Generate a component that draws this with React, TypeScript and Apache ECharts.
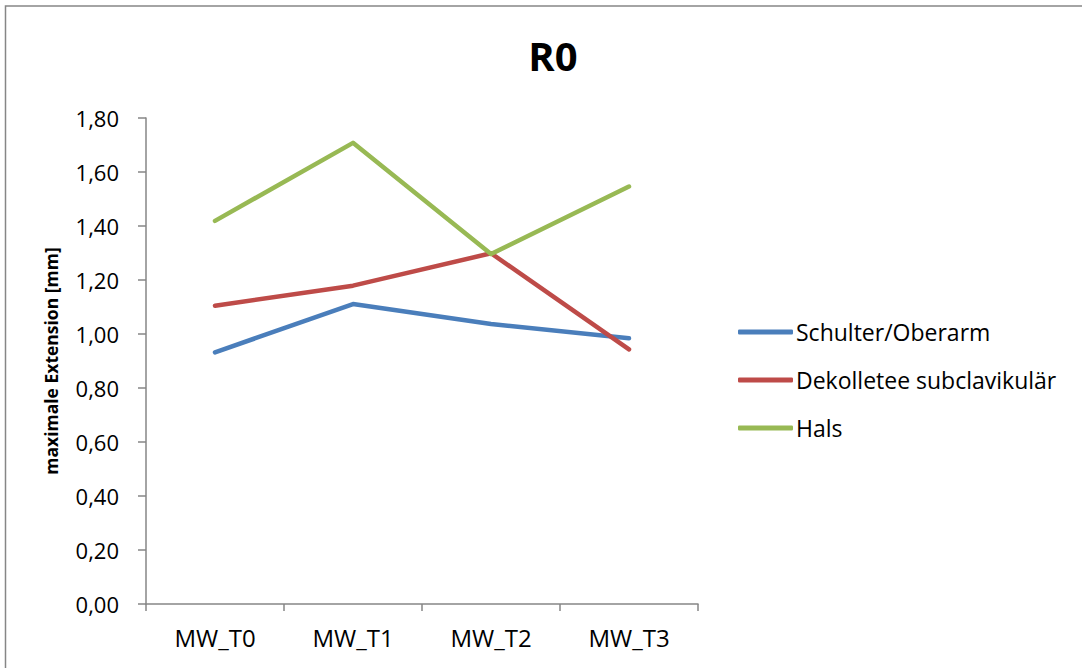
import React, { useEffect, useRef } from "react";
import * as echarts from "echarts";

const categories = ["MW_T0", "MW_T1", "MW_T2", "MW_T3"];
const seriesNames = ["Schulter/Oberarm", "Dekolletee subclavikulär", "Hals"];
const schulter = [0.932, 1.111, 1.037, 0.984];
const dekolletee = [1.105, 1.179, 1.299, 0.943];
const hals = [1.419, 1.708, 1.296, 1.546];
const colors = ["#4a7ebb", "#be4b48", "#98b954"];

const FONT = "'Open Sans', 'Noto Sans', sans-serif";

export default function App() {
  const ref = useRef<HTMLDivElement>(null);
  useEffect(() => {
    if (!ref.current) return;
    const chart = echarts.init(ref.current, null, { renderer: "svg" });
    const data = [schulter, dekolletee, hals];
    chart.setOption({
      animation: false,
      backgroundColor: "#ffffff",
      title: {
        text: "R0",
        left: 548,
        top: 30,
        textAlign: "center",
        textStyle: { fontFamily: FONT, fontSize: 40, fontWeight: "bold", color: "#000" },
      },
      graphic: [
        {
          type: "rect",
          shape: { x: 5.5, y: 6, width: 1100, height: 700 },
          style: { fill: "none", stroke: "#868686", lineWidth: 1.5 },
          silent: true,
        },
      ],
      legend: {
        orient: "vertical",
        left: 738,
        top: 320,
        padding: 0,
        itemWidth: 55,
        itemHeight: 5,
        itemGap: 24,
        icon: "roundRect",
        textStyle: { fontFamily: FONT, fontSize: 23, color: "#000", lineHeight: 24, padding: [0, 0, 0, -2] },
        data: seriesNames,
      },
      grid: { left: 146, right: 384, top: 118, bottom: 64, containLabel: false },
      xAxis: {
        type: "category",
        data: categories,
        boundaryGap: true,
        axisLine: { lineStyle: { color: "#868686", width: 1.5 } },
        axisTick: { show: true, length: 7, lineStyle: { color: "#868686", width: 1.5 } },
        axisLabel: { fontFamily: FONT, fontSize: 24, color: "#000", margin: 21 },
        splitLine: { show: false },
      },
      yAxis: {
        type: "value",
        min: 0,
        max: 1.8,
        interval: 0.2,
        name: "maximale Extension [mm]",
        nameLocation: "middle",
        nameGap: 86,
        nameTextStyle: { fontFamily: FONT, fontSize: 17.5, fontWeight: "bold", color: "#000" },
        axisLine: { show: true, lineStyle: { color: "#868686", width: 1.5 } },
        axisTick: { show: true, length: 8, lineStyle: { color: "#868686", width: 1.5 } },
        axisLabel: {
          fontFamily: FONT,
          fontSize: 22,
          color: "#000",
          margin: 27,
          formatter: (v: number) => v.toFixed(2).replace(".", ","),
        },
        splitLine: { show: false },
      },
      series: seriesNames.map((name, i) => ({
        name,
        type: "line",
        data: data[i],
        symbol: "none",
        color: colors[i],
        lineStyle: { width: 4.5, color: colors[i], cap: "round", join: "round" },
        itemStyle: { color: colors[i] },
      })),
    });
    return () => chart.dispose();
  }, []);
  return (
    <div
      ref={ref}
      style={{ position: "absolute", left: 0, top: 0, width: 1082, height: 668 }}
    />
  );
}
